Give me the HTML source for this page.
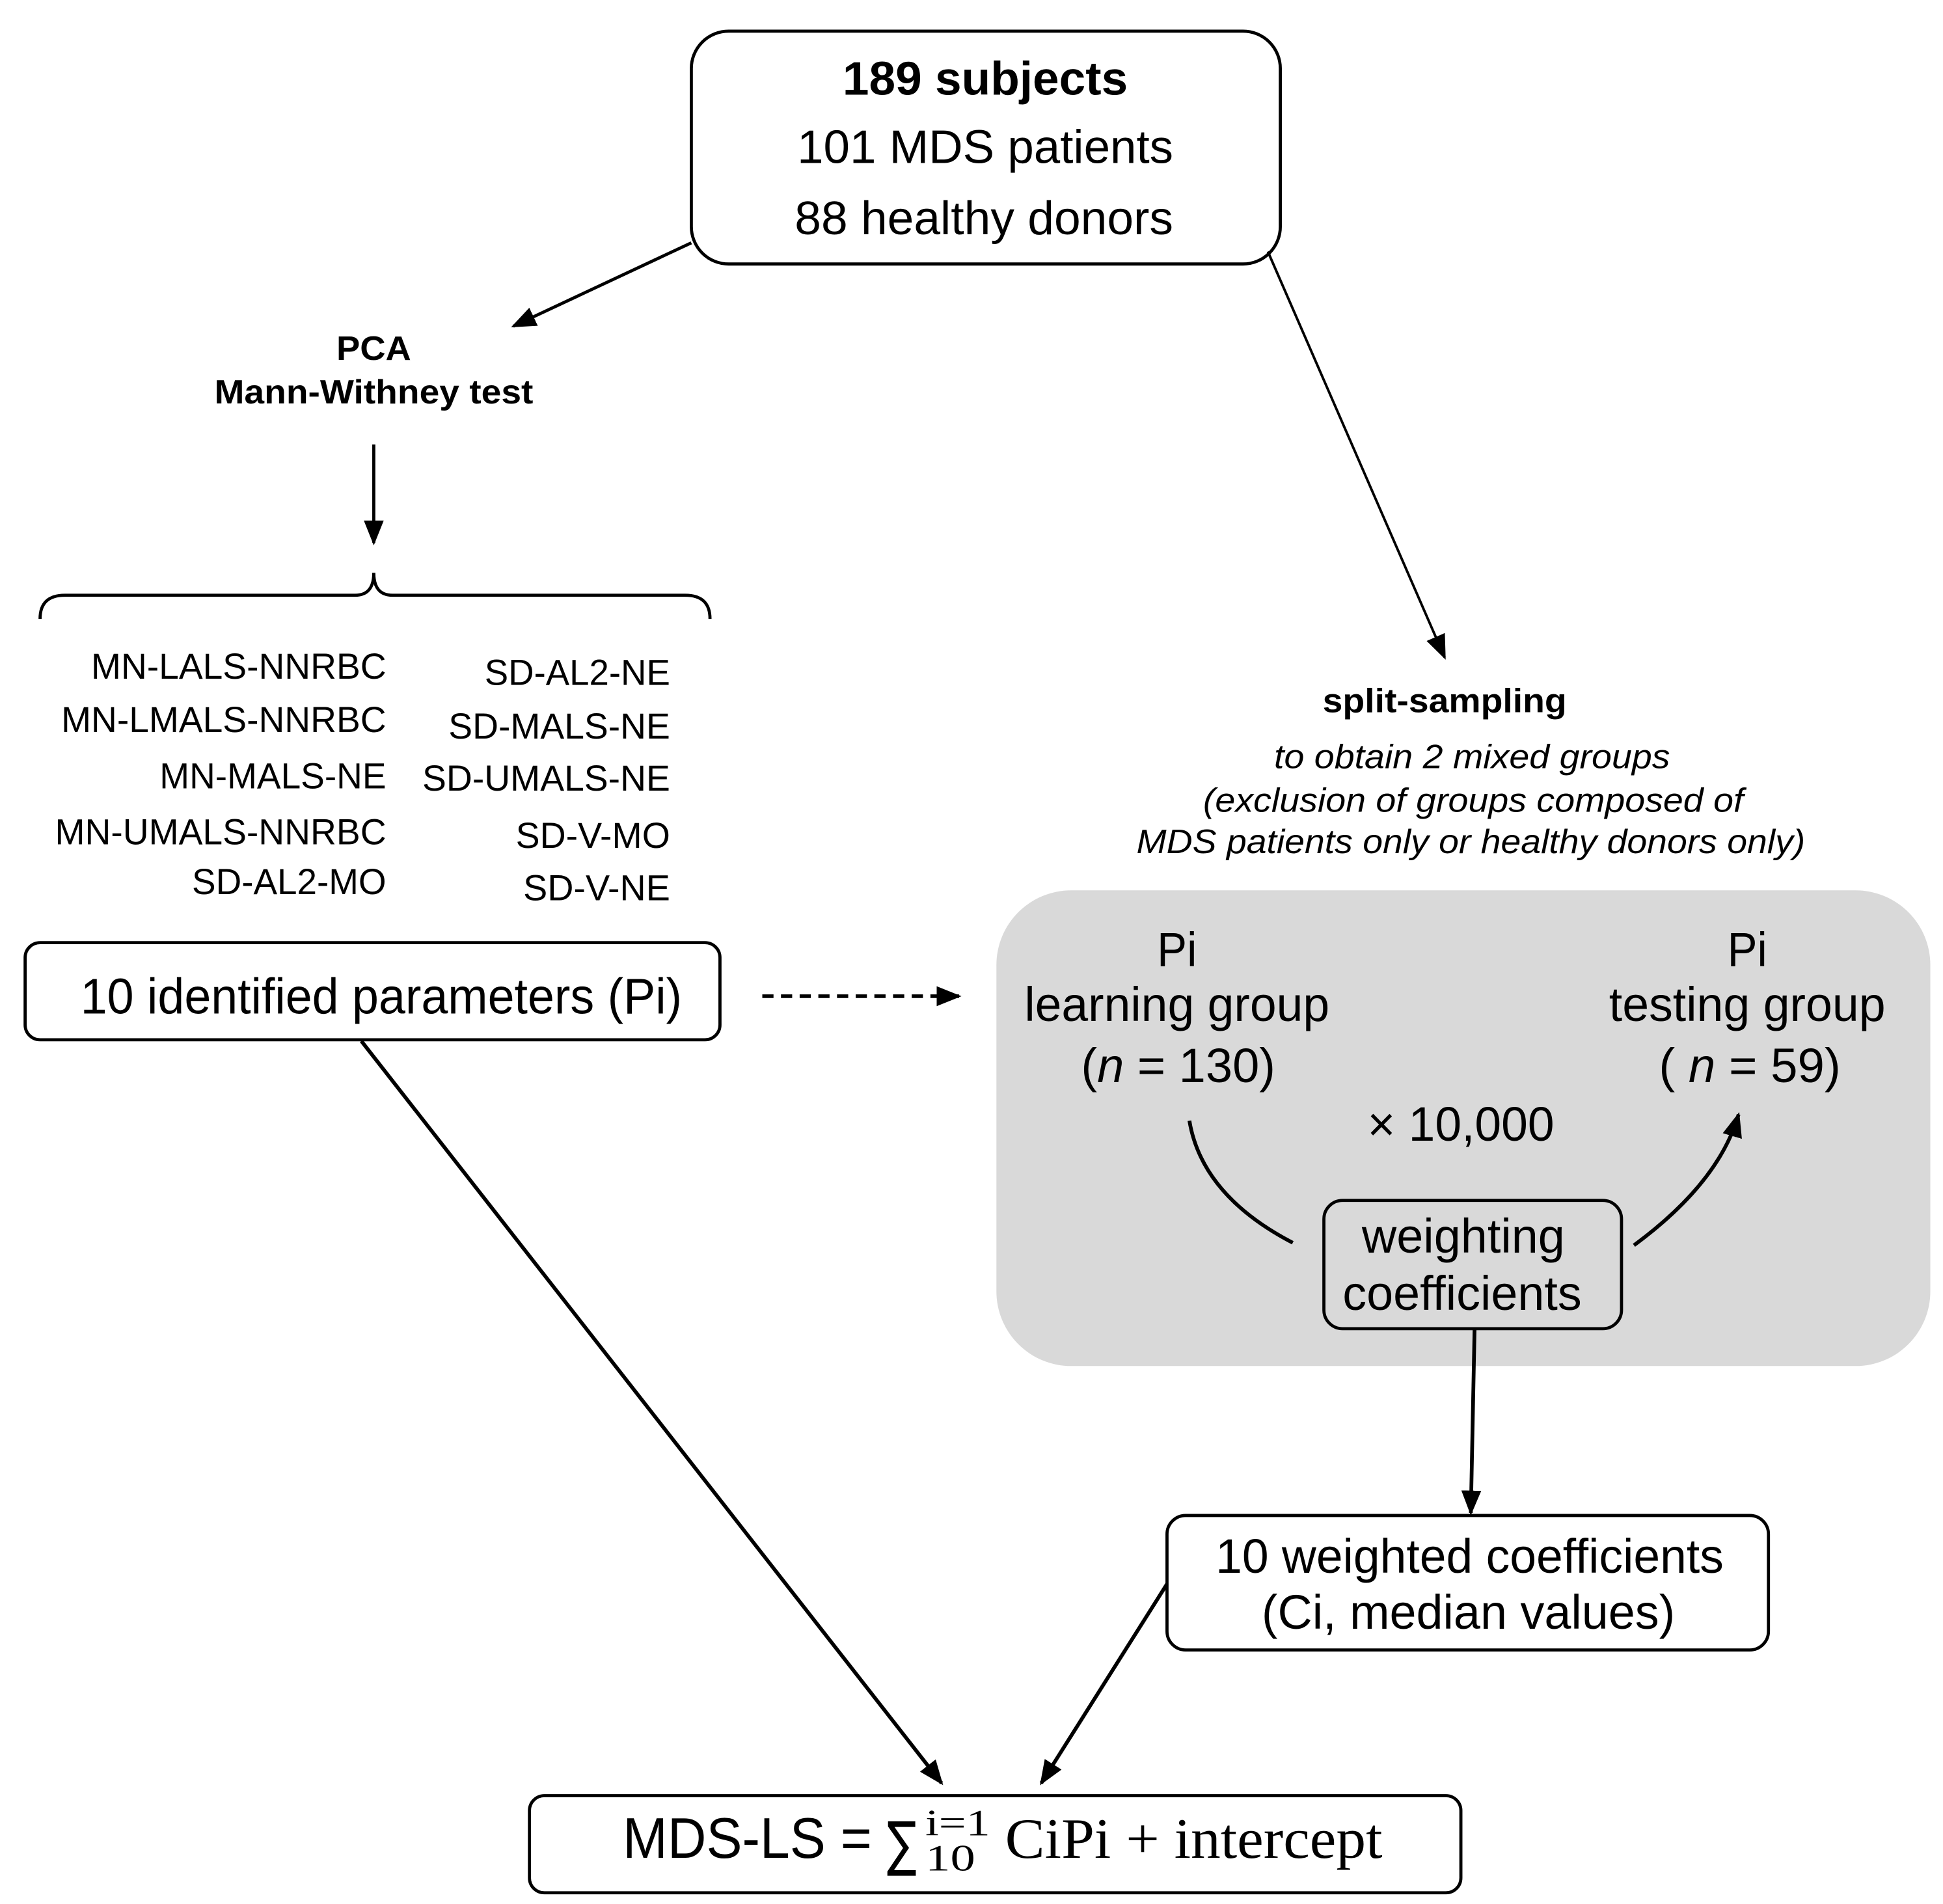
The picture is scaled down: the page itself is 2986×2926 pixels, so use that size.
<!DOCTYPE html>
<html><head><meta charset="utf-8"><style>html,body{margin:0;padding:0;background:#fff}svg{display:block}</style></head>
<body>
<svg width="2986" height="2926" viewBox="0 0 1560 1529" xmlns="http://www.w3.org/2000/svg" font-family="'Liberation Sans', sans-serif">
<defs>
<marker id="b" viewBox="0 0 10 10" refX="9" refY="5" markerWidth="20" markerHeight="20" markerUnits="userSpaceOnUse" orient="auto"><path d="M0,1 L10,5 L0,9 z" fill="#000"/></marker>
</defs>
<rect x="555" y="25" width="473" height="187" rx="30" fill="#fff" stroke="#000" stroke-width="2.5"/>
<g text-anchor="middle" font-size="38" fill="#000">
<text x="791" y="76" font-weight="bold" textLength="229" lengthAdjust="spacingAndGlyphs">189 subjects</text>
<text x="791" y="131" textLength="302" lengthAdjust="spacingAndGlyphs">101 MDS patients</text>
<text x="790" y="188" textLength="304" lengthAdjust="spacingAndGlyphs">88 healthy donors</text>
</g>
<line x1="555" y1="195" x2="412" y2="262" stroke="#000" stroke-width="2.5" marker-end="url(#b)"/>
<line x1="1018" y1="202" x2="1160" y2="528" stroke="#000" stroke-width="2" marker-end="url(#b)"/>
<g text-anchor="middle" font-size="27" font-weight="bold">
<text x="300" y="289" textLength="60" lengthAdjust="spacingAndGlyphs">PCA</text>
<text x="300" y="324" textLength="256" lengthAdjust="spacingAndGlyphs">Mann-Withney test</text>
<text x="1160" y="572" textLength="196" lengthAdjust="spacingAndGlyphs">split-sampling</text>
</g>
<g text-anchor="middle" font-size="27" font-style="italic">
<text x="1182" y="617" textLength="318" lengthAdjust="spacingAndGlyphs">to obtain 2 mixed groups</text>
<text x="1183" y="652" textLength="434" lengthAdjust="spacingAndGlyphs">(exclusion of groups composed of</text>
<text x="1181" y="685" textLength="537" lengthAdjust="spacingAndGlyphs">MDS patients only or healthy donors only)</text>
</g>
<line x1="300" y1="357" x2="300" y2="436" stroke="#000" stroke-width="2.5" marker-end="url(#b)"/>
<path d="M32,497 Q32,478 52,478 L285,478 Q300,478 300,460 Q300,478 315,478 L550,478 Q570,478 570,497" fill="none" stroke="#000" stroke-width="2.5"/>
<g text-anchor="end" font-size="29">
<text x="310" y="545" textLength="237" lengthAdjust="spacingAndGlyphs">MN-LALS-NNRBC</text>
<text x="310" y="588" textLength="261" lengthAdjust="spacingAndGlyphs">MN-LMALS-NNRBC</text>
<text x="310" y="633" textLength="182" lengthAdjust="spacingAndGlyphs">MN-MALS-NE</text>
<text x="310" y="678" textLength="266" lengthAdjust="spacingAndGlyphs">MN-UMALS-NNRBC</text>
<text x="310" y="718" textLength="156" lengthAdjust="spacingAndGlyphs">SD-AL2-MO</text>
<text x="538" y="550" textLength="149" lengthAdjust="spacingAndGlyphs">SD-AL2-NE</text>
<text x="538" y="593" textLength="178" lengthAdjust="spacingAndGlyphs">SD-MALS-NE</text>
<text x="538" y="635" textLength="199" lengthAdjust="spacingAndGlyphs">SD-UMALS-NE</text>
<text x="538" y="681" textLength="124" lengthAdjust="spacingAndGlyphs">SD-V-MO</text>
<text x="538" y="723" textLength="118" lengthAdjust="spacingAndGlyphs">SD-V-NE</text>
</g>
<rect x="20" y="757" width="558" height="78" rx="12" fill="#fff" stroke="#000" stroke-width="2.5"/>
<text x="306" y="814" text-anchor="middle" font-size="40" textLength="483" lengthAdjust="spacingAndGlyphs">10 identified parameters (Pi)</text>
<line x1="612" y1="800" x2="770" y2="800" stroke="#000" stroke-width="3" stroke-dasharray="9,6" marker-end="url(#b)"/>
<rect x="800" y="715" width="750" height="382" rx="60" fill="#d9d9d9"/>
<g text-anchor="middle" font-size="39">
<text x="945" y="776" textLength="32" lengthAdjust="spacingAndGlyphs">Pi</text>
<text x="945" y="820" textLength="245" lengthAdjust="spacingAndGlyphs">learning group</text>
<text x="946" y="869" textLength="156" lengthAdjust="spacingAndGlyphs">(<tspan font-style="italic">n</tspan> = 130)</text>
<text x="1403" y="776" textLength="32" lengthAdjust="spacingAndGlyphs">Pi</text>
<text x="1403" y="820" textLength="222" lengthAdjust="spacingAndGlyphs">testing group</text>
<text x="1405" y="869" textLength="146" lengthAdjust="spacingAndGlyphs">( <tspan font-style="italic">n</tspan> = 59)</text>
<text x="1173" y="916" textLength="150" lengthAdjust="spacingAndGlyphs">× 10,000</text>
</g>
<path d="M955,900 Q965,960 1038,998" fill="none" stroke="#000" stroke-width="3"/>
<path d="M1312,1000 Q1380,950 1396,895" fill="none" stroke="#000" stroke-width="3" marker-end="url(#b)"/>
<rect x="1063" y="964" width="239" height="103" rx="15" fill="#d9d9d9" stroke="#000" stroke-width="2.5"/>
<g text-anchor="middle" font-size="39">
<text x="1175" y="1006" textLength="163" lengthAdjust="spacingAndGlyphs">weighting</text>
<text x="1174" y="1052" textLength="192" lengthAdjust="spacingAndGlyphs">coefficients</text>
</g>
<line x1="1184" y1="1067" x2="1181" y2="1215" stroke="#000" stroke-width="3" marker-end="url(#b)"/>
<rect x="937" y="1217" width="483" height="108" rx="15" fill="#fff" stroke="#000" stroke-width="2.5"/>
<g text-anchor="middle" font-size="39">
<text x="1180" y="1263" textLength="408" lengthAdjust="spacingAndGlyphs">10 weighted coefficients</text>
<text x="1179" y="1308" textLength="332" lengthAdjust="spacingAndGlyphs">(Ci, median values)</text>
</g>
<line x1="290" y1="836" x2="756" y2="1432" stroke="#000" stroke-width="3" marker-end="url(#b)"/>
<line x1="937" y1="1272" x2="836" y2="1432" stroke="#000" stroke-width="3" marker-end="url(#b)"/>
<rect x="425" y="1442" width="748" height="78" rx="12" fill="#fff" stroke="#000" stroke-width="2.5"/>
<text x="500" y="1492" font-size="46" textLength="200" lengthAdjust="spacingAndGlyphs">MDS-LS =</text>
<text x="712" y="1497" font-size="48" font-family="'DejaVu Sans', sans-serif" textLength="24" lengthAdjust="spacingAndGlyphs">∑</text>
<text x="743" y="1474" font-size="30" font-family="'Liberation Serif', serif" textLength="52" lengthAdjust="spacingAndGlyphs">i=1</text>
<text x="743" y="1502" font-size="30" font-family="'Liberation Serif', serif" textLength="40" lengthAdjust="spacingAndGlyphs">10</text>
<text x="807" y="1492" font-size="46" font-family="'Liberation Serif', serif" textLength="303" lengthAdjust="spacingAndGlyphs">CiPi + intercept</text>
</svg>
</body></html>
